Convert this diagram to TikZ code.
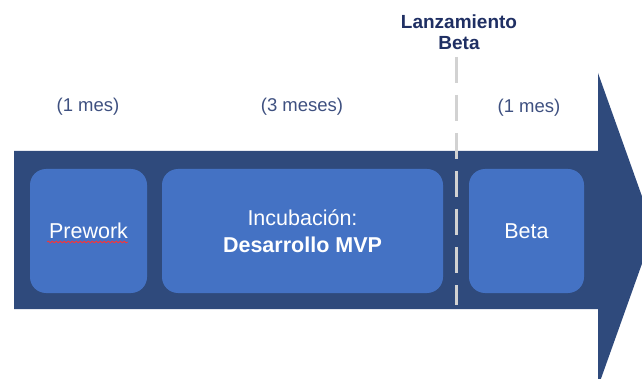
\documentclass[tikz,border=0pt]{standalone}
\usepackage{fontspec}
\setmainfont{Liberation Sans}
\usetikzlibrary{decorations.pathmorphing}

\definecolor{arrowblue}{HTML}{2F4A7C}
\definecolor{phaseblue}{HTML}{4472C4}
\definecolor{labelblue}{HTML}{3E5080}
\definecolor{navy}{HTML}{1F2F63}
\definecolor{dashgray}{HTML}{D2D2D2}

\tikzset{
  phase/.style={draw=none, fill=phaseblue, rounded corners=16pt, inner sep=0pt,
    minimum height=124pt, text=white, align=center,
    font=\fontsize{21.5}{27}\selectfont},
  duration/.style={text=labelblue, inner sep=0pt, font=\fontsize{18.5}{22}\selectfont},
  milestone/.style={text=navy, inner sep=0pt, align=center,
    font=\bfseries\fontsize{19}{21}\selectfont},
}

\begin{document}
\begin{tikzpicture}[x=1pt, y=-1pt]
  \useasboundingbox (0,0) rectangle (642,379);
  \clip (0,0) rectangle (642,379);

  % timeline arrow
  \fill[arrowblue] (14,151) -- (598,151) -- (598,73) -- (654,230)
    -- (598,387) -- (598,309) -- (14,309) -- cycle;

  % phases
  \node[phase, minimum width=117pt] (prework) at (88.5,231) {Prework};
  \node[phase, minimum width=281pt] (incub) at (302.5,231)
    {Incubación:\\\textbf{Desarrollo MVP}};
  \node[phase, minimum width=115pt] (beta) at (526.5,231) {Beta};

  % spell-check underline
  \draw[red!80!white, line width=0.8pt,
    decorate, decoration={snake, segment length=4pt, amplitude=0.9pt}]
    (47,242) -- (128,242);

  % durations
  \node[duration] (d1) at (88,107) {(1 mes)};
  \node[duration] (d2) at (302,107) {(3 meses)};
  \node[duration] (d3) at (529,108) {(1 mes)};

  % launch milestone
  \node[milestone] (launch) at (459,32) {Lanzamiento\\Beta};
  \coordinate (mtop) at (456,57);
  \coordinate (mbot) at (456,305);
  \draw[dashgray, line width=3pt, dash pattern=on 26pt off 12pt] (mtop) -- (mbot);
\end{tikzpicture}
\end{document}
